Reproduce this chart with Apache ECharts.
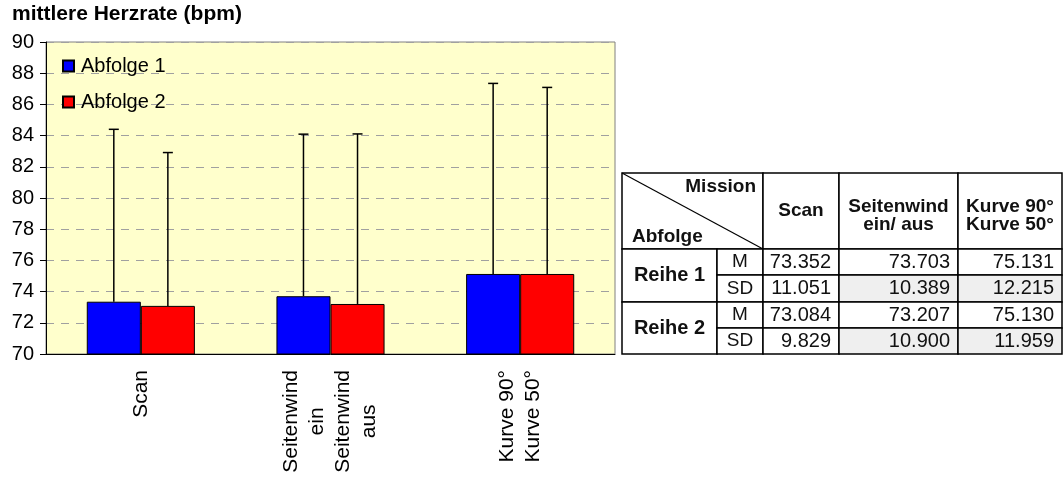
<!DOCTYPE html>
<html>
<head>
<meta charset="utf-8">
<script src="https://cdn.jsdelivr.net/npm/echarts@6/dist/echarts.min.js"></script>
<style>
  html, body { margin: 0; padding: 0; background: #fff; }
  #main { width: 1064px; height: 481px; }
</style>
</head>
<body>
<div id="main"></div>
<script>
// Daten
var categories = ['Scan', 'Seitenwind\nein\nSeitenwind\naus', 'Kurve 90°\nKurve 50°']
var tableHeads = ['Scan', 'Seitenwind\nein/ aus', 'Kurve 90°\nKurve 50°']
var seriesNames = ['Abfolge 1', 'Abfolge 2']
var rowNames = ['Reihe 1', 'Reihe 2']
var mean1 = [73.352, 73.703, 75.131]
var sd1 = [11.051, 10.389, 12.215]
var mean2 = [73.084, 73.207, 75.130]
var sd2 = [9.829, 10.900, 11.959]
var yMin = 70
var yMax = 90
var yStep = 2

var font = "'Liberation Sans', Arial, sans-serif"
var barFrac = 0.285

// Fehlerbalken nur nach oben (M + SD)
function errorSeries(name, means, sds, side) {
  return {
    name: name + ' SD',
    type: 'custom',
    z: 5,
    data: means.map(function (m, i) { return [i, m, m + sds[i]] }),
    renderItem: function (params, api) {
      var band = api.size([1, 0])[0]
      var off = side * band * barFrac / 2
      var p0 = api.coord([api.value(0), api.value(1)])
      var p1 = api.coord([api.value(0), api.value(2)])
      var x = p0[0] + off
      var st = { stroke: '#000', lineWidth: 1.5 }
      return {
        type: 'group',
        children: [
          { type: 'line', shape: { x1: x, y1: p0[1], x2: x, y2: p1[1] }, style: st },
          { type: 'line', shape: { x1: x - 5, y1: p1[1], x2: x + 5, y2: p1[1] }, style: st },
        ],
      }
    },
  }
}

// Tabelle rechts
var colX = [622, 717, 763, 839, 958, 1062]
var rowY = [173, 249, 275, 302, 328, 354]
var tbl = []
function cell(x0, y0, x1, y1, fill) {
  tbl.push({
    type: 'rect',
    shape: { x: x0, y: y0, width: x1 - x0, height: y1 - y0 },
    style: { fill: fill || '#fff', stroke: '#000', lineWidth: 1.5 },
  })
}
function txt(s, x, y, align, f, lh) {
  tbl.push({
    type: 'text',
    x: x,
    y: y,
    z: 10,
    style: {
      text: s, fill: '#111', font: f,
      align: align, textAlign: align,
      verticalAlign: 'middle', textVerticalAlign: 'middle',
      lineHeight: lh || 20,
    },
  })
}
var fBold = 'bold 19px ' + font
var fReg = '20px ' + font

cell(colX[0], rowY[0], colX[2], rowY[1])
tbl.push({
  type: 'line',
  shape: { x1: colX[0], y1: rowY[0], x2: colX[2], y2: rowY[1] },
  style: { stroke: '#000', lineWidth: 1.2 },
})
txt('Mission', colX[2] - 7, 187, 'right', fBold)
txt('Abfolge', colX[0] + 10, 237, 'left', fBold)
tableHeads.forEach(function (h, j) {
  cell(colX[j + 2], rowY[0], colX[j + 3], rowY[1])
  txt(h, (colX[j + 2] + colX[j + 3]) / 2, h.indexOf('\n') < 0 ? 211 : 216, 'center', fBold, 18)
})
;[[mean1, sd1], [mean2, sd2]].forEach(function (r, i) {
  var yA = rowY[1 + 2 * i], yB = rowY[2 + 2 * i], yC = rowY[3 + 2 * i]
  cell(colX[0], yA, colX[1], yC)
  txt(rowNames[i], (colX[0] + colX[1]) / 2, (yA + yC) / 2, 'center', 'bold 20px ' + font)
  cell(colX[1], yA, colX[2], yB)
  txt('M', (colX[1] + colX[2]) / 2, (yA + yB) / 2, 'center', '19px ' + font)
  cell(colX[1], yB, colX[2], yC)
  txt('SD', (colX[1] + colX[2]) / 2, (yB + yC) / 2, 'center', '19px ' + font)
  for (var j = 0; j < 3; j++) {
    cell(colX[j + 2], yA, colX[j + 3], yB)
    txt(r[0][j].toFixed(3), colX[j + 3] - 8, (yA + yB) / 2, 'right', fReg)
    cell(colX[j + 2], yB, colX[j + 3], yC, j === 0 ? '#fff' : '#efefef')
    txt(r[1][j].toFixed(3), colX[j + 3] - 8, (yB + yC) / 2, 'right', fReg)
  }
})

var option = {
  animation: false,
  backgroundColor: '#fff',
  textStyle: { fontFamily: font },
  title: {
    text: 'mittlere Herzrate (bpm)',
    left: 12,
    top: 4,
    padding: 0,
    textStyle: { fontSize: 21, fontWeight: 'bold', color: '#000', fontFamily: font },
  },
  legend: {
    data: seriesNames,
    orient: 'vertical',
    left: 62,
    top: 56,
    padding: 0,
    itemWidth: 11,
    itemHeight: 11,
    itemGap: 16,
    icon: 'rect',
    textStyle: { fontSize: 20, color: '#000', lineHeight: 20, padding: [0, 0, 0, 2], fontFamily: font },
  },
  grid: {
    left: 46,
    right: 449,
    top: 42,
    bottom: 127,
    show: true,
    backgroundColor: '#ffffcc',
    borderColor: '#808080',
    borderWidth: 1,
  },
  xAxis: {
    type: 'category',
    data: categories,
    axisLine: { lineStyle: { color: '#000', width: 1 } },
    axisTick: { length: 6, interval: 0, lineStyle: { color: '#000' } },
    axisLabel: {
      interval: 0,
      rotate: 90,
      margin: 16,
      formatter: function (v) {
        return v.split('\n').map(function (s) { return '{c|' + s + '}' }).join('\n')
      },
      rich: {
        c: { align: 'center', fontSize: 21, lineHeight: 26, color: '#000', fontFamily: font },
      },
    },
  },
  yAxis: {
    type: 'value',
    min: yMin,
    max: yMax,
    interval: yStep,
    axisLine: { show: true, lineStyle: { color: '#000', width: 1 } },
    axisTick: { show: true, length: 6, lineStyle: { color: '#000' } },
    axisLabel: { fontSize: 20, color: '#000', margin: 12, fontFamily: font },
    splitLine: { lineStyle: { color: '#a0a0a0', type: [8, 7], width: 1 } },
  },
  graphic: tbl,
  series: [
    {
      name: seriesNames[0],
      type: 'bar',
      data: mean1,
      barWidth: barFrac * 100 + '%',
      barGap: '0%',
      itemStyle: { color: '#0000ff', borderColor: '#000', borderWidth: 1 },
    },
    {
      name: seriesNames[1],
      type: 'bar',
      data: mean2,
      barWidth: barFrac * 100 + '%',
      barGap: '0%',
      itemStyle: { color: '#ff0000', borderColor: '#000', borderWidth: 1 },
    },
    errorSeries(seriesNames[0], mean1, sd1, -1),
    errorSeries(seriesNames[1], mean2, sd2, 1),
  ],
}

var myChart = echarts.init(document.getElementById('main'))
myChart.setOption(option)
</script>
</body>
</html>
